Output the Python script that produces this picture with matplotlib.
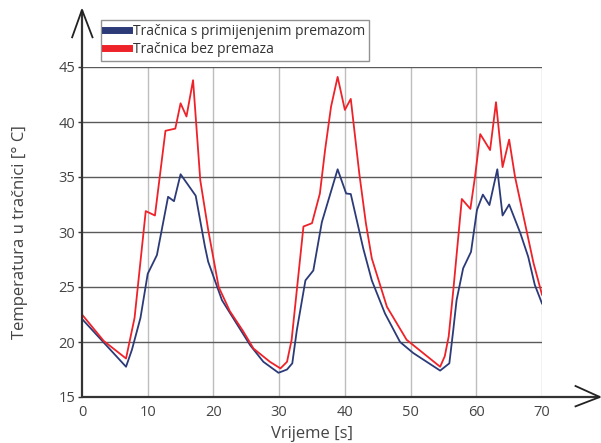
import matplotlib
matplotlib.use("Agg")
import matplotlib.pyplot as plt
from matplotlib.lines import Line2D

# Time [s] and rail temperature [°C] for the two rail variants
t_coated = [0, 6.7, 7.6, 8.9, 10.0, 11.4, 13.1, 14.0, 15.0, 17.3, 18.7, 19.2,
            21.3, 23.5, 25.6, 27.6, 29.9, 31.2, 32.0, 32.7, 34.0, 35.2, 36.5,
            38.9, 40.2, 40.9, 42.8, 44.1, 46.1, 48.4, 50.4, 54.5, 55.9, 56.5,
            57.0, 58.0, 59.2, 60.1, 61.0, 62.0, 63.2, 64.0, 65.0, 66.7, 67.9,
            68.9, 70.0]
temp_coated = [22.1, 17.75, 19.3, 22.2, 26.2, 27.9, 33.2, 32.8, 35.25, 33.3,
               28.7, 27.3, 23.8, 21.7, 19.7, 18.2, 17.2, 17.5, 18.06, 21.1,
               25.6, 26.5, 30.9, 35.7, 33.5, 33.45, 28.5, 25.6, 22.6, 20.0,
               19.0, 17.4, 18.06, 21.1, 23.8, 26.7, 28.2, 32.0, 33.4, 32.45,
               35.7, 31.5, 32.5, 29.9, 27.75, 25.2, 23.5]

t_bare = [0, 3.3, 6.7, 8.0, 9.7, 11.1, 12.7, 14.2, 15.0, 15.9, 16.9, 18.0,
          19.2, 20.8, 22.5, 24.5, 26.1, 28.6, 30.2, 31.2, 31.9, 33.7, 35.0,
          36.2, 37.0, 37.9, 38.9, 40.0, 40.9, 42.2, 43.2, 44.1, 46.4, 49.4,
          54.5, 55.2, 55.8, 56.5, 57.8, 59.1, 59.8, 60.6, 62.1, 63.0, 64.0,
          65.0, 65.9, 68.7, 70.0]
temp_bare = [22.5, 20.1, 18.5, 22.2, 31.9, 31.5, 39.2, 39.4, 41.7, 40.5, 43.8,
             34.7, 30.2, 25.0, 22.8, 21.0, 19.4, 18.2, 17.6, 18.2, 20.2, 30.5,
             30.8, 33.5, 37.5, 41.4, 44.1, 41.1, 42.1, 35.3, 30.8, 27.6, 23.2,
             20.2, 17.75, 18.7, 20.5, 24.7, 33.0, 32.1, 35.0, 38.9, 37.45,
             41.8, 35.9, 38.4, 35.0, 27.2, 24.3]

labels = ["Tračnica s primijenjenim premazom", "Tračnica bez premaza"]
x_ticks = [0, 10, 20, 30, 40, 50, 60, 70]
y_ticks = [15, 20, 25, 30, 35, 40, 45]

BLUE = "#2c3b78"
RED = "#ee2229"
TEXT = "#444444"
AXIS = "#333333"

plt.rcParams["font.family"] = ["Open Sans", "DejaVu Sans"]

fig = plt.figure(figsize=(6.01, 4.43), dpi=100)
ax = fig.add_axes([82 / 601, 46 / 443, 460 / 601, 330 / 443])

ax.set_xlim(0, 70)
ax.set_ylim(15, 45)

# grid: light vertical lines, darker horizontal lines
for xv in x_ticks[1:]:
    ax.axvline(xv, color="#bdbdbd", lw=1.0, zorder=1)
for yv in y_ticks[1:]:
    ax.axhline(yv, color="#5a5a5a", lw=1.0, zorder=1)

ax.plot(t_coated, temp_coated, color=BLUE, lw=1.3, label=labels[0], zorder=3)
ax.plot(t_bare, temp_bare, color=RED, lw=1.3, label=labels[1], zorder=3)

for s in ax.spines.values():
    s.set_visible(False)

# axes with open arrow heads
ax_kw = dict(color=AXIS, lw=1.6, clip_on=False, zorder=4,
             solid_capstyle="butt")
ax.add_line(Line2D([0, 78.8], [15, 15], **ax_kw))
ax.add_line(Line2D([0, 0], [15, 50.2], **ax_kw))
head_kw = dict(color="#222222", lw=1.3, clip_on=False, zorder=4)
ax.add_line(Line2D([75.1, 78.8, 75.1], [16.0, 15.0, 14.15], **head_kw))
ax.add_line(Line2D([-1.5, 0, 1.6], [47.7, 50.2, 47.7], **head_kw))

ax.set_xticks(x_ticks)
ax.set_yticks(y_ticks)
ax.tick_params(axis="both", colors=AXIS, labelcolor=TEXT, labelsize=10.5,
               length=3, width=1.0)
ax.tick_params(axis="x", length=0, pad=6)
ax.tick_params(axis="y", pad=2)

ax.set_xlabel("Vrijeme [s]", fontsize=12, color=TEXT, labelpad=4)
ax.set_ylabel("Temperatura u tračnici [° C]", fontsize=12, color=TEXT,
              labelpad=22)

leg = ax.legend(loc="upper left", bbox_to_anchor=(101 / 601, 423 / 443),
                bbox_transform=fig.transFigure, frameon=True, fancybox=False,
                fontsize=10, handlelength=1.75, handleheight=0.9,
                handletextpad=0.25, borderpad=0.3, labelspacing=0.2,
                borderaxespad=0)
leg.get_frame().set_edgecolor("#777777")
leg.get_frame().set_linewidth(1.0)
for line in leg.get_lines():
    line.set_linewidth(5)
for txt in leg.get_texts():
    txt.set_color("#333333")

fig.savefig("out.png", dpi=100)
